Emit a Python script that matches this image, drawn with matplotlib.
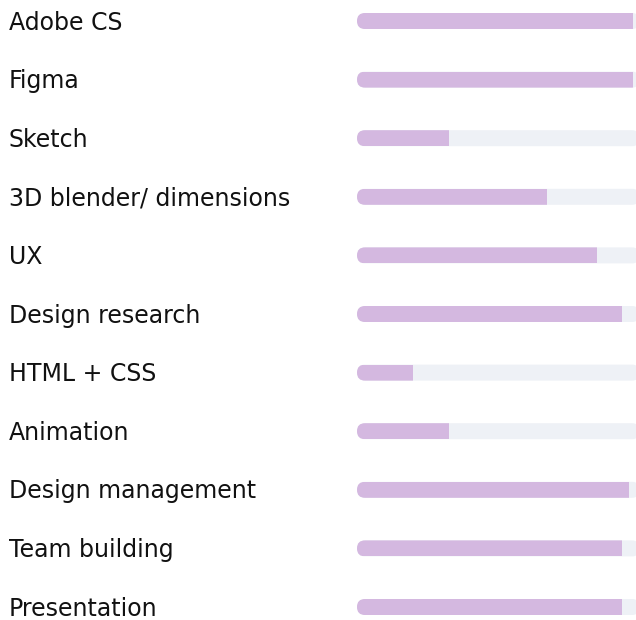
import matplotlib
matplotlib.use("Agg")
import matplotlib.pyplot as plt
from matplotlib.patches import FancyBboxPatch

# skill names and how full each bar is (percent of the track)
skills = ["Adobe CS", "Figma", "Sketch", "3D blender/ dimensions", "UX",
          "Design research", "HTML + CSS", "Animation", "Design management",
          "Team building", "Presentation"]
levels = [99, 99, 33, 68, 86, 95, 20, 33, 97.5, 95, 95]

W, H, DPI = 636, 620, 100
TRACK_X0, TRACK_X1 = 357, 636   # pixel span of the track
ROW0, ROW_GAP = 21, 58.6        # first bar centre and spacing, px from top
BAR_H = 16                      # bar thickness px

fill_color = "#d4b8e0"
track_color = "#eef1f6"

fig = plt.figure(figsize=(W / DPI, H / DPI), dpi=DPI)
ax = fig.add_axes([TRACK_X0 / W, 0, (TRACK_X1 - TRACK_X0) / W, 1])
ax.set_xlim(0, 100)
ax.set_ylim((H - ROW0) / ROW_GAP, -ROW0 / ROW_GAP)
ax.axis("off")

xpx = 100 / (TRACK_X1 - TRACK_X0)    # data units per pixel, x
ypx = 1 / ROW_GAP                    # data units per pixel, y
h = BAR_H * ypx
r = BAR_H / 2 * xpx

for i, v in enumerate(levels):
    # track runs a little past the right edge so only its corners show
    track = FancyBboxPatch((0, i - h / 2), 100 + 4 * xpx, h,
                           boxstyle=f"round,pad=0,rounding_size={r}",
                           mutation_aspect=ypx / xpx,
                           fc=track_color, ec="none", clip_on=False)
    ax.add_patch(track)
    bar = ax.barh(i, v, height=h, color=fill_color, lw=0, zorder=3)
    for p in bar:
        p.set_clip_path(track)

# labels on the left
for i, name in enumerate(skills):
    ax.text((9 - TRACK_X0) / (TRACK_X1 - TRACK_X0), i + 8.5 * ypx, name,
            transform=ax.get_yaxis_transform(), ha="left", va="baseline",
            fontsize=17, family="DejaVu Sans", color="#111111", clip_on=False)

fig.savefig("out.png", dpi=DPI)
